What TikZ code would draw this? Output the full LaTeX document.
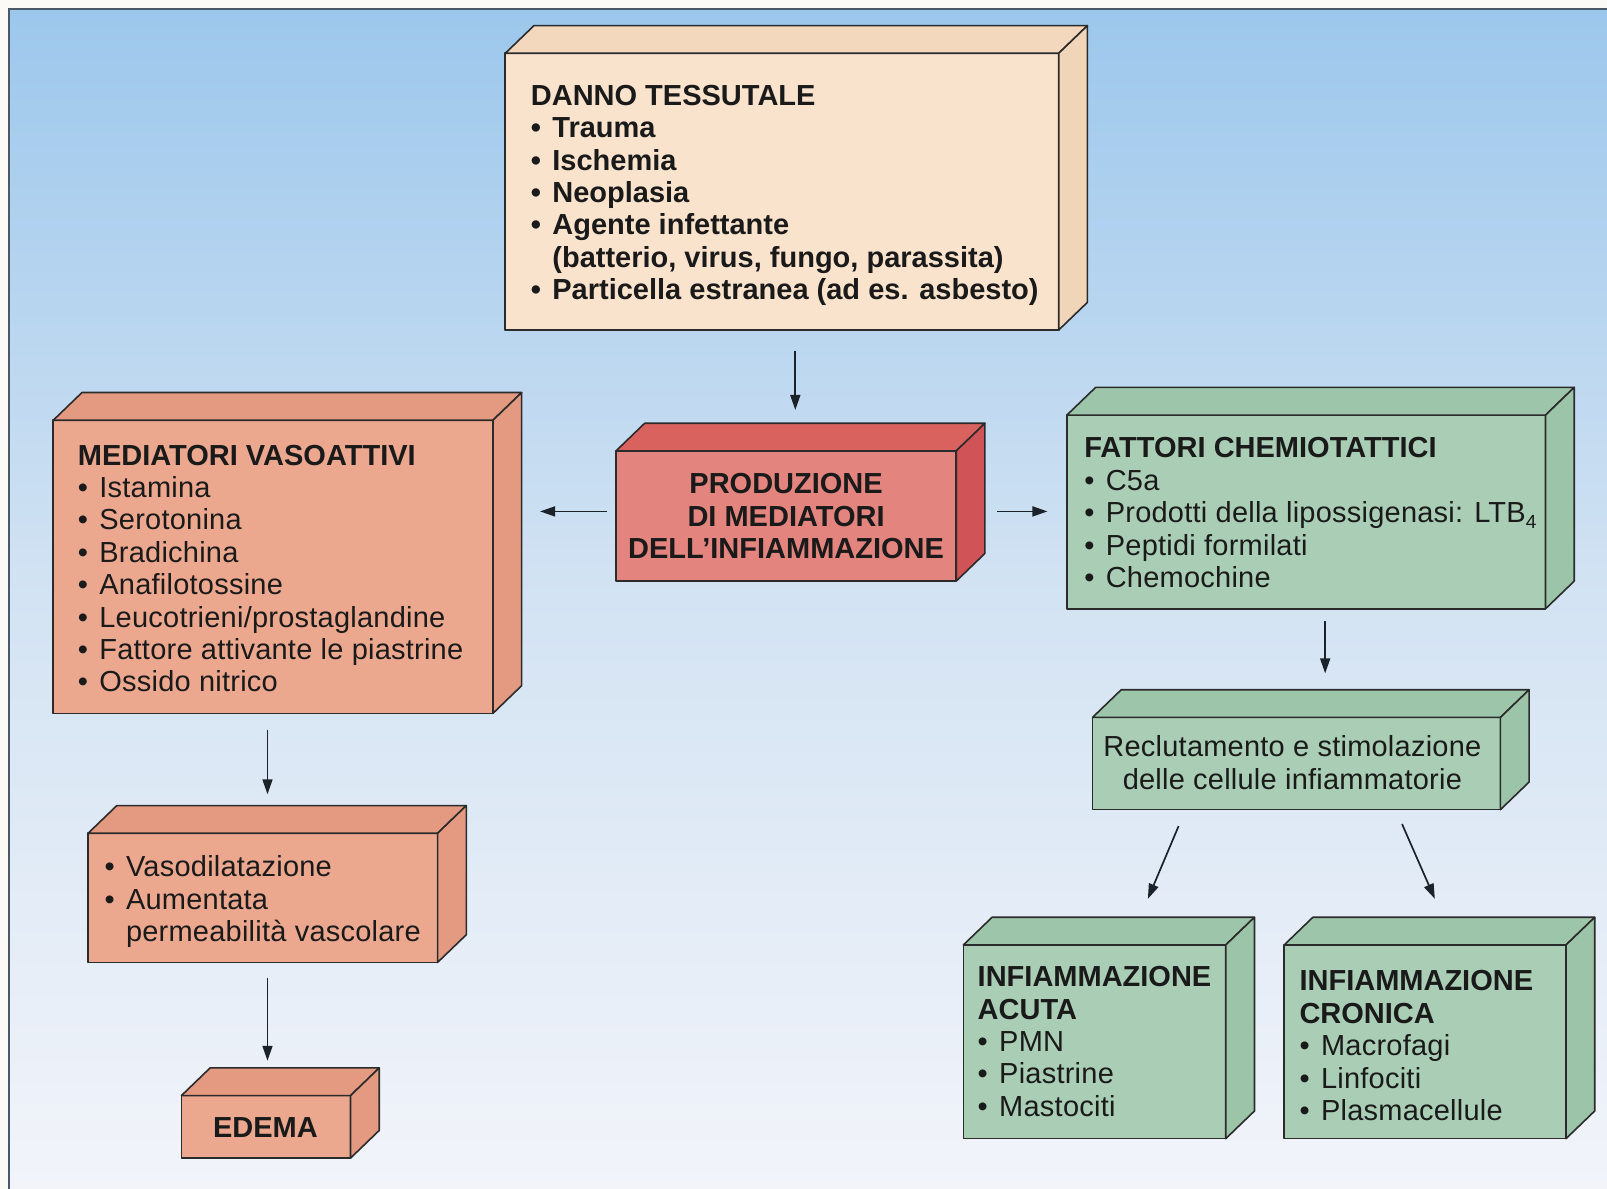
\documentclass[tikz,border=0pt]{standalone}
\usepackage{fontspec}
\setmainfont{Liberation Sans}
\newfontfamily\rgf[LetterSpace=0.8]{Liberation Sans}
\usetikzlibrary{arrows.meta,fit}

\definecolor{outc}{HTML}{FBFAF7}
\definecolor{bgtop}{HTML}{9CC7EC}
\definecolor{bgmid}{HTML}{D3E3F3}
\definecolor{bgbot}{HTML}{F2F4FA}
\definecolor{framec}{HTML}{4A5868}
\definecolor{edgec}{HTML}{2B2B2B}
\definecolor{txtc}{HTML}{1A1A1A}
\definecolor{arrc}{HTML}{1C2229}
% peach
\definecolor{pfront}{HTML}{F9E3CC}
\definecolor{ptop}{HTML}{F3D8BD}
\definecolor{pside}{HTML}{F1D5B9}
% salmon
\definecolor{sfront}{HTML}{ECA88F}
\definecolor{stop}{HTML}{E49A80}
\definecolor{sside}{HTML}{E39A80}
% red
\definecolor{rfront}{HTML}{E3847E}
\definecolor{rtop}{HTML}{D9625F}
\definecolor{rside}{HTML}{D05358}
% green
\definecolor{gfront}{HTML}{A9CEB5}
\definecolor{gtop}{HTML}{9DC5AA}
\definecolor{gside}{HTML}{9CC4A9}

\newcommand{\bl}{\makebox[21.5pt][l]{\textbullet}}
\newcommand{\ind}{\hspace*{21.5pt}}
\newcommand{\li}[1]{{\rgf\bl #1}}

\tikzset{
  cubeface/.style={draw=edgec, line width=1.6pt, line join=round},
  frontface/.style={cubeface, inner sep=0pt, outer sep=0pt},
  txt/.style={inner sep=0pt, outer sep=0pt, align=left, text=txtc,
    font=\fontsize{29}{32.4}\selectfont},
  arr/.style={draw=arrc, line width=1.7pt, -{Triangle[length=15pt,width=10pt]}},
}

% #1 name, #2 x1, #3 y1, #4 x2, #5 y2, #6 front, #7 top, #8 side
\newcommand{\cuboid}[8]{%
  \node[frontface, fill=#6, fit={(#2,#3) (#4,#5)}] (#1) {};
  \draw[cubeface, fill=#7] (#1.north west) -- ++(28,-27)
     -- ([shift={(28,-27)}]#1.north east) -- (#1.north east) -- cycle;
  \draw[cubeface, fill=#8] (#1.north east) -- ++(28,-27)
     -- ([shift={(28,-27)}]#1.south east) -- (#1.south east) -- cycle;
}

\begin{document}
\begin{tikzpicture}[x=1.0249pt, y=-1.0249pt]
\useasboundingbox (0,0) rectangle (1568,1160);
% background
\fill[outc] (0,0) rectangle (1568,1160);
\shade[top color=bgtop, bottom color=bgmid] (8.8,8.8) rectangle (1568,582);
\shade[top color=bgmid, bottom color=bgbot] (8.8,580) rectangle (1568,1160);
\draw[framec, line width=2pt] (8.8,1160) -- (8.8,8.8) -- (1568,8.8);

% boxes
\cuboid{danno}{493}{52}{1033}{322}{pfront}{ptop}{pside}
\cuboid{med}{52}{410}{481}{696}{sfront}{stop}{sside}
\cuboid{prod}{601}{440}{933}{567}{rfront}{rtop}{rside}
\cuboid{fatt}{1041}{405}{1508}{594}{gfront}{gtop}{gside}
\cuboid{recl}{1066}{700}{1464}{790}{gfront}{gtop}{gside}
\cuboid{acute}{940}{922}{1196}{1111}{gfront}{gtop}{gside}
\cuboid{cron}{1253}{922}{1528}{1111}{gfront}{gtop}{gside}
\cuboid{vaso}{86}{813}{427}{939}{sfront}{stop}{sside}
\cuboid{edema}{177}{1069}{342}{1130}{sfront}{stop}{sside}

% texts
\node[txt, anchor=north west, font=\fontsize{29}{32.4}\selectfont\bfseries] (tdanno) at (518,83)
 {DANNO TESSUTALE\\
  \bl Trauma\\
  \bl Ischemia\\
  \bl Neoplasia\\
  \bl Agente infettante\\
  \ind(batterio, virus, fungo, parassita)\\
  \bl Particella estranea (ad es. asbesto)};

\node[txt, anchor=north west] (tmed) at (76,434)
 {\textbf{MEDIATORI VASOATTIVI}\\
  \li{Istamina}\\
  \li{Serotonina}\\
  \li{Bradichina}\\
  \li{Anafilotossine}\\
  \li{Leucotrieni/prostaglandine}\\
  \li{Fattore attivante le piastrine}\\
  \li{Ossido nitrico}};

\node[txt, anchor=north, align=center, font=\fontsize{29}{32.4}\selectfont\bfseries] (tprod) at (767,462)
 {PRODUZIONE\\DI MEDIATORI\\DELL’INFIAMMAZIONE};

\node[txt, anchor=north west] (tfatt) at (1058,427)
 {\textbf{FATTORI CHEMIOTATTICI}\\
  \li{C5a}\\
  \li{Prodotti della lipossigenasi: LTB\raisebox{-6pt}{\fontsize{19}{19}\selectfont 4}}\\
  \li{Peptidi formilati}\\
  \li{Chemochine}};

\node[txt, anchor=north, align=center] (trecl) at (1261,718)
 {{\rgf Reclutamento e stimolazione}\\{\rgf delle cellule infiammatorie}};

\node[txt, anchor=north west] (tacute) at (954,943)
 {\textbf{INFIAMMAZIONE}\\
  \textbf{ACUTA}\\
  \li{PMN}\\
  \li{Piastrine}\\
  \li{Mastociti}};

\node[txt, anchor=north west] (tcron) at (1268,947)
 {\textbf{INFIAMMAZIONE}\\
  \textbf{CRONICA}\\
  \li{Macrofagi}\\
  \li{Linfociti}\\
  \li{Plasmacellule}};

\node[txt, anchor=north west] (tvaso) at (102,835)
 {\li{Vasodilatazione}\\
  \li{Aumentata}\\
  {\rgf\ind permeabilità vascolare}};

\node[txt, font=\fontsize{29}{32.4}\selectfont\bfseries] (tedema) at (259,1100) {EDEMA};

% arrows
\draw[arr] ([shift={(13,20)}]danno.south) -- ([shift={(9,-40)}]prod.north);
\draw[arr] ([shift={(-9,-4.5)}]prod.west) -- ([shift={(46,-54)}]med.east);
\draw[arr] ([shift={(40,-4.5)}]prod.east) -- ([shift={(-19,-0.5)}]fatt.west);
\draw[arr] ([shift={(18.5,12)}]fatt.south) -- ([shift={(28,-43)}]recl.north);
\draw[arr] ([shift={(84,16)}]recl.south west) -- ([shift={(180,-45)}]acute.north west);
\draw[arr] ([shift={(-96,14)}]recl.south east) -- ([shift={(147,-45)}]cron.north west);
\draw[arr] ([shift={(-5.5,16)}]med.south) -- ([shift={(4.5,-38)}]vaso.north);
\draw[arr] ([shift={(4.5,15)}]vaso.south) -- ([shift={(1.5,-34)}]edema.north);
\end{tikzpicture}
\end{document}
